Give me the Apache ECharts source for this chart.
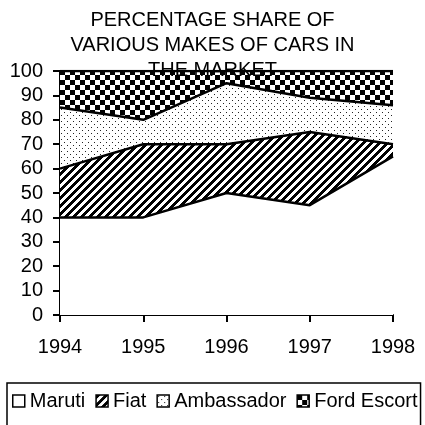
<!DOCTYPE html>
<html>
<head>
<meta charset="utf-8">
<script src="https://cdn.jsdelivr.net/npm/echarts@6/dist/echarts.min.js"></script>
<style>
  html, body { margin: 0; padding: 0; background: #fff; }
  #chart { width: 425px; height: 425px; }
</style>
</head>
<body>
<div id="chart"></div>
<script>
// data
var years = ["1994", "1995", "1996", "1997", "1998"];
var maruti = [40, 40, 50, 45, 65];
var fiat = [20, 30, 20, 30, 5];
var ambassador = [25, 10, 25, 14, 16];
var fordEscort = [15, 20, 5, 11, 14];
var yTicks = { min: 0, max: 100, step: 10 };

// fill patterns (drawn pixel by pixel so they stay crisp)
function makePattern(size, isInk, ink) {
  var c = document.createElement("canvas");
  c.width = size;
  c.height = size;
  var ctx = c.getContext("2d");
  ctx.fillStyle = "#fff";
  ctx.fillRect(0, 0, size, size);
  ctx.fillStyle = ink;
  for (var y = 0; y < size; y++) {
    for (var x = 0; x < size; x++) {
      if (isInk(x, y)) ctx.fillRect(x, y, 1, 1);
    }
  }
  return { image: c, repeat: "repeat" };
}

var whiteFill = "#fff";
// "/" hatch
var hatchFill = makePattern(8, function (x, y) {
  return (x + y) % 8 < 4;
}, "#000");
// sparse dots
var dotFill = makePattern(6, function (x, y) {
  return (x == 1 && y == 1) || (x == 4 && y == 4);
}, "#222");
// checkerboard
var checkFill = makePattern(10, function (x, y) {
  return (x < 5) == (y < 5);
}, "#000");

var font = "Liberation Sans";

function areaSeries(name, values, fill) {
  return {
    name: name,
    type: "line",
    stack: "share",
    data: values,
    symbol: "none",
    lineStyle: { color: "#000", width: 2.5 },
    itemStyle: { color: fill, borderColor: "#000", borderWidth: 1.5 },
    areaStyle: { color: fill, opacity: 1 },
  };
}

var myChart = echarts.init(document.getElementById("chart"));
var option = {
  animation: false,
  backgroundColor: "#fff",
  title: {
    text: "PERCENTAGE SHARE OF\nVARIOUS MAKES OF CARS IN\nTHE MARKET",
    left: "center",
    top: 3,
    textStyle: {
      fontFamily: font,
      fontSize: 20,
      fontWeight: "normal",
      lineHeight: 25,
      color: "#000",
    },
  },
  grid: { left: 60, right: 32, top: 71, bottom: 110 },
  xAxis: {
    type: "category",
    data: years,
    boundaryGap: false,
    axisLine: { lineStyle: { color: "#000", width: 2 } },
    axisTick: { alignWithLabel: true, length: 7, lineStyle: { color: "#000", width: 2 } },
    axisLabel: { color: "#000", fontFamily: font, fontSize: 20, margin: 22 },
  },
  yAxis: {
    type: "value",
    min: yTicks.min,
    max: yTicks.max,
    interval: yTicks.step,
    splitLine: { show: false },
    axisLine: { show: true, lineStyle: { color: "#000", width: 2 } },
    axisTick: { show: true, length: 7, lineStyle: { color: "#000", width: 2 } },
    axisLabel: { color: "#000", fontFamily: font, fontSize: 20, margin: 17 },
  },
  legend: {
    left: 7,
    top: 383,
    padding: [8, 3, 40, 5],
    itemGap: 10,
    itemWidth: 12,
    itemHeight: 12,
    icon: "rect",
    borderColor: "#000",
    borderWidth: 1.5,
    textStyle: { color: "#000", fontFamily: font, fontSize: 20 },
    itemStyle: { borderColor: "#000", borderWidth: 1.5 },
    data: ["Maruti", "Fiat", "Ambassador", "Ford Escort"],
  },
  series: [
    areaSeries("Maruti", maruti, whiteFill),
    areaSeries("Fiat", fiat, hatchFill),
    areaSeries("Ambassador", ambassador, dotFill),
    areaSeries("Ford Escort", fordEscort, checkFill),
  ],
};
myChart.setOption(option);
window.addEventListener("resize", function () {
  myChart.resize();
});
</script>
</body>
</html>
